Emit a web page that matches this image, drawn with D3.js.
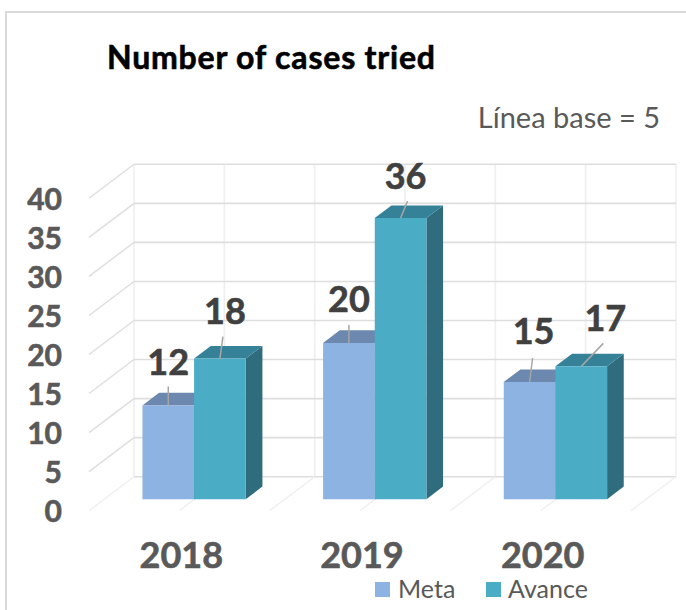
<!DOCTYPE html>
<html>
<head>
<meta charset="utf-8">
<script src="https://cdn.jsdelivr.net/npm/d3@7/dist/d3.min.js"></script>
<style>
html,body{margin:0;padding:0;background:#fff;overflow:hidden}
text{font-family:Lato,"Open Sans",sans-serif}
</style>
</head>
<body>
<svg id="chart" width="686" height="610"></svg>
<script>
const categories = ["2018", "2019", "2020"];
const seriesNames = ["Meta", "Avance"];
const metaValues = [12, 20, 15];
const avanceValues = [18, 36, 17];
const yTicks = [0, 5, 10, 15, 20, 25, 30, 35, 40];
const titleText = "Number of cases tried";
const noteText = "Línea base = 5";

// layout only
const leaderEnds = {Meta: [[0,-19],[0,-18],[3,-24]], Avance: [[3,-22],[7,-17],[22,-23]]};
const labelAnchors = {Meta: [[0,-30],[0,-30.5],[4,-38]], Avance: [[5,-35],[5,-29],[24,-35]]};
const colors = {
  Meta: {front:"#8DB3E2", top:"#6C88AE", side:"#5F7FA6"},
  Avance: {front:"#4BACC6", top:"#358298", side:"#2F6C7E"}
};
const depth = {dx:-45, dy:34};
const barFront = 0.66, barBack = 0.29;

const svg = d3.select("#chart");
const y = d3.scaleLinear().domain([0,40]).range([476.7,164.3]);
const x = d3.scaleBand().domain(categories).range([134,676]);
const inner = d3.scaleBand().domain(seriesNames)
  .range([x.bandwidth()*0.211, x.bandwidth()*0.783]);
const P = (px, v, d) => [px + depth.dx*d, y(v) + depth.dy*d];
const poly = pts => "M" + pts.map(p => p.join(",")).join("L") + "Z";

// frame
svg.append("rect").attr("x",6).attr("y",12).attr("width",760).attr("height",680)
  .attr("fill","#fff").attr("stroke","#D9D9D9").attr("stroke-width",2);

// back wall grid
const grid = svg.append("g").attr("fill","none");
const vLines = [];
categories.forEach(c => { vLines.push(x(c)); vLines.push(x(c)+x.bandwidth()/2); });
vLines.push(x.range()[1]);
grid.selectAll(".v").data(vLines).join("line")
  .attr("x1",d=>d).attr("x2",d=>d).attr("y1",y(40)).attr("y2",y(0))
  .attr("stroke","#EFEFEF").attr("stroke-width",1.6);
grid.selectAll(".h").data(yTicks).join("line")
  .attr("x1",134).attr("x2",676).attr("y1",d=>y(d)).attr("y2",d=>y(d))
  .attr("stroke","#DEDEDE").attr("stroke-width",1.6);
grid.selectAll(".d").data(yTicks).join("line")
  .attr("x1",134).attr("y1",d=>y(d))
  .attr("x2",d=>P(134,d,1)[0]).attr("y2",d=>P(134,d,1)[1])
  .attr("stroke",d=>d===0?"#EFEFEF":"#DEDEDE").attr("stroke-width",1.4);
grid.selectAll(".f").data(vLines.slice(1)).join("line")
  .attr("x1",d=>d).attr("y1",y(0))
  .attr("x2",d=>P(d,0,1)[0]).attr("y2",d=>P(d,0,1)[1])
  .attr("stroke","#EFEFEF").attr("stroke-width",1.4);

// bars
const rows = [];
seriesNames.forEach((s,si) => {
  const vals = si===0 ? metaValues : avanceValues;
  categories.forEach((c,ci) => rows.push({s, c, ci, v: vals[ci]}));
});
const bars = svg.append("g");
rows.forEach(r => {
  const x0 = x(r.c) + inner(r.s), x1 = x0 + inner.bandwidth(), col = colors[r.s];
  const front = [P(x0,r.v,barFront),P(x1,r.v,barFront),P(x1,0,barFront),P(x0,0,barFront)];
  const top = [P(x0,r.v,barFront),P(x1,r.v,barFront),P(x1,r.v,barBack),P(x0,r.v,barBack)];
  const side = [P(x1,r.v,barFront),P(x1,r.v,barBack),P(x1,0,barBack),P(x1,0,barFront)];
  bars.append("path").attr("d",poly(side)).attr("fill",col.side);
  bars.append("path").attr("d",poly(top)).attr("fill",col.top);
  bars.append("path").attr("d",poly(front)).attr("fill",col.front);
});

// leaders and data labels
const lab = svg.append("g");
rows.forEach(r => {
  const cx = x(r.c) + inner(r.s) + inner.bandwidth()/2;
  const [px,py] = P(cx,r.v,barFront);
  const le = leaderEnds[r.s][r.ci], la = labelAnchors[r.s][r.ci];
  lab.append("line").attr("x1",px).attr("y1",py).attr("x2",px+le[0]).attr("y2",py+le[1])
    .attr("stroke","#A6A6A6").attr("stroke-width",1.5);
  lab.append("text").attr("x",px+la[0]).attr("y",py+la[1]).attr("text-anchor","middle")
    .attr("font-size",36).attr("font-weight",700).attr("fill","#404040")
    .attr("stroke","#404040").attr("stroke-width",0.6)
    .text(r.v);
});

// axes
const yAxis = d3.axisLeft(y).tickValues(yTicks).tickSize(0).tickPadding(0);
const gy = svg.append("g").attr("transform",`translate(62,${depth.dy})`).call(yAxis);
const xAxis = d3.axisBottom(x).tickSize(0).tickPadding(0);
const gx = svg.append("g").attr("transform","translate(-43,540)").call(xAxis);
[gy,gx].forEach(g => g.select(".domain").remove());
gy.selectAll("text").attr("font-family","Lato").attr("font-size",30).attr("font-weight",700)
  .attr("fill","#595959").attr("stroke","#595959").attr("stroke-width",0.6).attr("dy","0.36em");
gx.selectAll("text").attr("font-family","Lato").attr("font-size",36).attr("font-weight",700)
  .attr("fill","#595959").attr("stroke","#595959").attr("stroke-width",0.6).attr("dy","0").attr("y",28);

// title, note
svg.append("text").attr("x",107).attr("y",69).attr("font-size",32).attr("font-weight",700)
  .attr("letter-spacing",0.8).attr("fill","#000").attr("stroke","#000").attr("stroke-width",0.6).text(titleText);
svg.append("text").attr("x",660).attr("y",128).attr("text-anchor","end").attr("font-size",29)
  .attr("fill","#595959").text(noteText);

// legend
const legX = {Meta:[375,398], Avance:[486,508]};
const leg = svg.append("g");
seriesNames.forEach(s => {
  leg.append("rect").attr("x",legX[s][0]).attr("y",582).attr("width",15).attr("height",15)
    .attr("fill",colors[s].front);
  leg.append("text").attr("x",legX[s][1]).attr("y",598).attr("font-size",25)
    .attr("fill","#595959").text(s);
});
</script>
</body>
</html>
